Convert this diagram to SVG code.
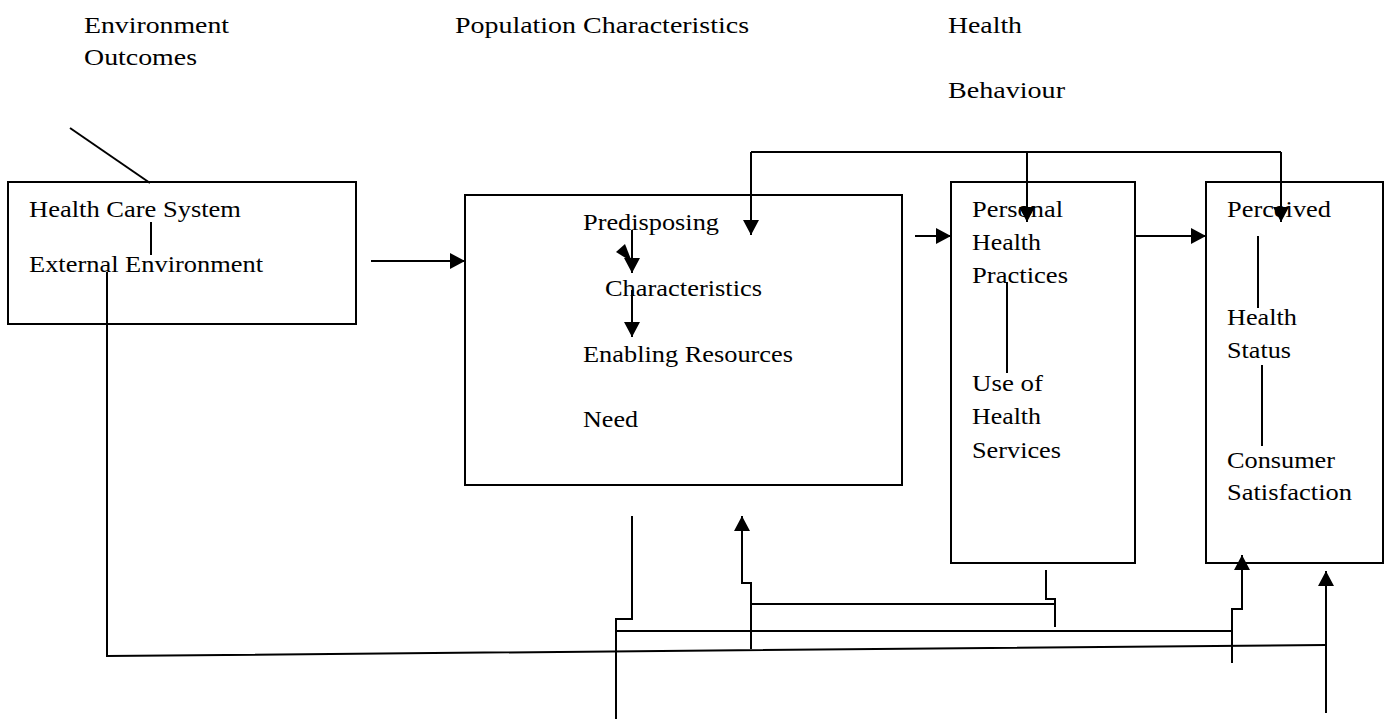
<svg xmlns="http://www.w3.org/2000/svg" width="1388" height="719" viewBox="0 0 1388 719">
<style>
text{font-family:"Liberation Serif","Times New Roman",serif;font-size:23px;fill:#000}
.top{font-size:24px}
.box{fill:#fff;stroke:#000;stroke-width:2}
.ln{fill:none;stroke:#000;stroke-width:2}
</style>
<defs>
<marker id="ah" markerUnits="userSpaceOnUse" markerWidth="15" markerHeight="16" refX="15" refY="8" orient="auto" viewBox="0 0 15 16">
<path d="M0,0 L15,8 L0,16 Z" fill="#000"/>
</marker>
</defs>
<rect width="1388" height="719" fill="#fff"/>
<g id="labels">
<text class="top" x="84" y="33" textLength="145" lengthAdjust="spacingAndGlyphs">Environment</text>
<text class="top" x="84" y="65" textLength="113" lengthAdjust="spacingAndGlyphs">Outcomes</text>
<text class="top" x="455" y="33" textLength="294" lengthAdjust="spacingAndGlyphs">Population Characteristics</text>
<text class="top" x="948" y="33" textLength="74" lengthAdjust="spacingAndGlyphs">Health</text>
<text class="top" x="948" y="98" textLength="117" lengthAdjust="spacingAndGlyphs">Behaviour</text>
</g>
<g id="node-environment">
<rect class="box" x="8" y="182" width="348" height="142"/>
<text x="29" y="217" textLength="212" lengthAdjust="spacingAndGlyphs">Health Care System</text>
<text x="29" y="272" textLength="234" lengthAdjust="spacingAndGlyphs">External Environment</text>
</g>
<g id="node-population">
<rect class="box" x="465" y="195" width="437" height="290"/>
<text x="583" y="230" textLength="136" lengthAdjust="spacingAndGlyphs">Predisposing</text>
<text x="605" y="296" textLength="157" lengthAdjust="spacingAndGlyphs">Characteristics</text>
<text x="583" y="362" textLength="210" lengthAdjust="spacingAndGlyphs">Enabling Resources</text>
<text x="583" y="427" textLength="55" lengthAdjust="spacingAndGlyphs">Need</text>
</g>
<g id="node-behaviour">
<rect class="box" x="951" y="182" width="184" height="381"/>
<text x="972" y="217" textLength="91" lengthAdjust="spacingAndGlyphs">Personal</text>
<text x="972" y="250" textLength="69" lengthAdjust="spacingAndGlyphs">Health</text>
<text x="972" y="283" textLength="96" lengthAdjust="spacingAndGlyphs">Practices</text>
<text x="972" y="391" textLength="71" lengthAdjust="spacingAndGlyphs">Use of</text>
<text x="972" y="424" textLength="69" lengthAdjust="spacingAndGlyphs">Health</text>
<text x="972" y="458" textLength="89" lengthAdjust="spacingAndGlyphs">Services</text>
</g>
<g id="node-outcomes">
<rect class="box" x="1206" y="182" width="177" height="381"/>
<text x="1227" y="217" textLength="104" lengthAdjust="spacingAndGlyphs">Perceived</text>
<text x="1227" y="325" textLength="70" lengthAdjust="spacingAndGlyphs">Health</text>
<text x="1227" y="358" textLength="64" lengthAdjust="spacingAndGlyphs">Status</text>
<text x="1227" y="468" textLength="108" lengthAdjust="spacingAndGlyphs">Consumer</text>
<text x="1227" y="500" textLength="125" lengthAdjust="spacingAndGlyphs">Satisfaction</text>
</g>
<g id="connectors">
<path class="ln" d="M70,128 L150,183"/>
<path class="ln" d="M151,222 V255"/>
<path class="ln" d="M371,261 H465" marker-end="url(#ah)"/>
<path class="ln" d="M632,230 V273" marker-end="url(#ah)"/>
<polygon points="616,252 625,244 632,262" fill="#000"/>
<path class="ln" d="M632,290 V337" marker-end="url(#ah)"/>
<path class="ln" d="M751,152 H1281"/>
<path class="ln" d="M751,152 V235" marker-end="url(#ah)"/>
<path class="ln" d="M1027,152 V222" marker-end="url(#ah)"/>
<path class="ln" d="M1281,152 V222" marker-end="url(#ah)"/>
<path class="ln" d="M915,236 H951" marker-end="url(#ah)"/>
<path class="ln" d="M1135,236 H1206" marker-end="url(#ah)"/>
<path class="ln" d="M1007,282 V373"/>
<path class="ln" d="M1258,236 V308"/>
<path class="ln" d="M1262,365 V446"/>
<path class="ln" d="M107,272 V656 L1326,645"/>
<path class="ln" d="M632,516 V619 H616 V719"/>
<path class="ln" d="M616,631 H1232"/>
<path class="ln" d="M751,649 V583 H742 V516" marker-end="url(#ah)"/>
<path class="ln" d="M751,604 H1055"/>
<path class="ln" d="M1046,570 V599 H1055 V627"/>
<path class="ln" d="M1232,663 V609 H1242 V555" marker-end="url(#ah)"/>
<path class="ln" d="M1326,713 V571" marker-end="url(#ah)"/>
</g>
</svg>
